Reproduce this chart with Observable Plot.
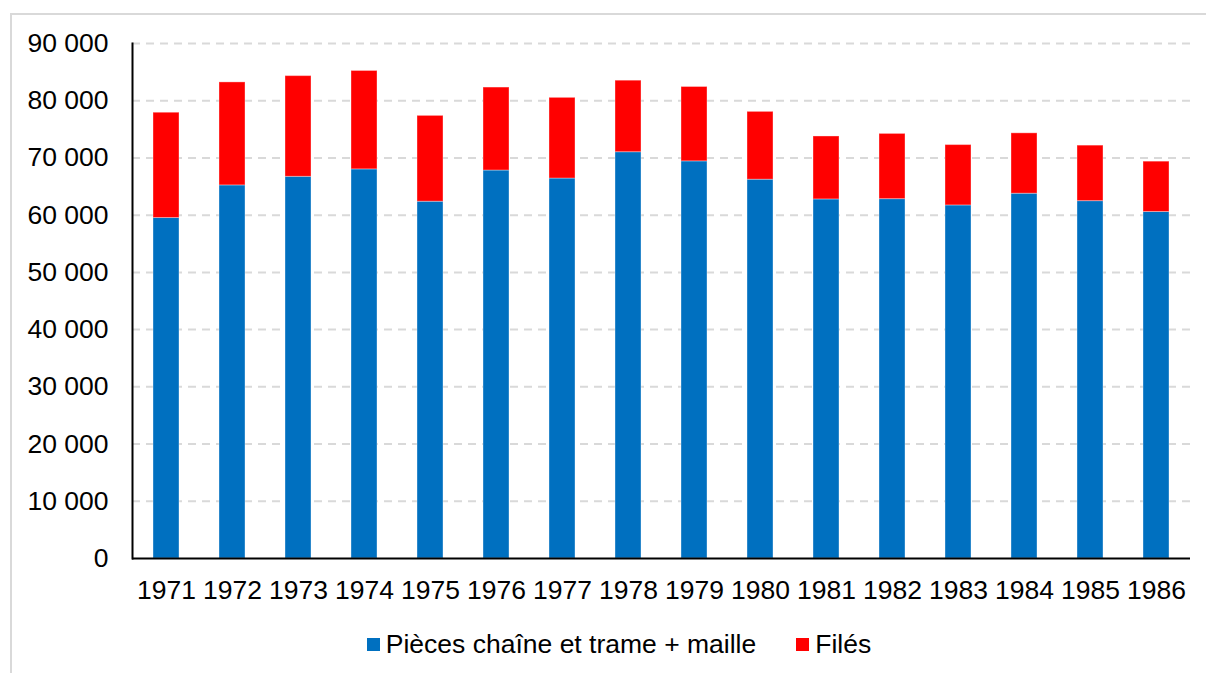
<!DOCTYPE html>
<html>
<head>
<meta charset="utf-8">
<script src="https://cdn.jsdelivr.net/npm/d3@7"></script>
<script src="https://cdn.jsdelivr.net/npm/@observablehq/plot@0.6"></script>
<style>
  html, body { margin: 0; padding: 0; background: #fff; }
  body { width: 1206px; height: 673px; position: relative; overflow: hidden;
         font-family: "Liberation Sans", Arial, sans-serif; }
  #frame { position: absolute; left: 10px; top: 13px; width: 1210px; height: 680px;
           border: 2px solid #d9d9d9; box-sizing: border-box; }
  #chart { position: absolute; left: 0; top: 0; }
  #legend { position: absolute; left: 32px; width: 1174px; top: 629px; display: flex;
            justify-content: center; align-items: center; gap: 40px;
            font-size: 26.5px; color: #000; }
  #legend .item { display: flex; align-items: center; }
  #legend .sw { width: 13px; height: 13px; margin-right: 6px; }
</style>
</head>
<body>
<div id="frame"></div>
<div id="chart"></div>
<div id="legend"></div>
<script>
// Production by year (tonnes): woven + knitted pieces, and yarns
const years = ["1971", "1972", "1973", "1974", "1975", "1976", "1977", "1978",
               "1979", "1980", "1981", "1982", "1983", "1984", "1985", "1986"];
const pieces = [59500, 65200, 66700, 68000, 62350, 67800, 66400, 71000,
                69400, 66200, 62750, 62800, 61700, 63750, 62450, 60550];
const files  = [18400, 18000, 17600, 17200, 15000, 14500, 14100, 12500,
                13000, 11850, 11000, 11400, 10550, 10550, 9700, 8800];
const seriesNames = ["Pièces chaîne et trame + maille", "Filés"];
const seriesColors = ["#0070C0", "#FF0000"];
const yTicks = [0, 10000, 20000, 30000, 40000, 50000, 60000, 70000, 80000, 90000];

// Long table: the bottom segment first so it stacks under the yarns
const rows = [];
years.forEach((year, i) => {
  rows.push({year, series: seriesNames[0], value: pieces[i]});
  rows.push({year, series: seriesNames[1], value: files[i]});
});

const fmt = d3.formatLocale({decimal: ",", thousands: "\u00a0", grouping: [3], currency: ["", " €"]}).format(",d");

const chart = Plot.plot({
  width: 1206,
  height: 620,
  marginLeft: 132,
  marginRight: 16,
  marginTop: 43,
  marginBottom: 62,
  style: {fontFamily: "'Liberation Sans', Arial, sans-serif", fontSize: "26.5px", color: "#000", background: "transparent", overflow: "visible"},
  x: {domain: years, paddingInner: 0.6, paddingOuter: 0.3, label: null, tickSize: 0, tickPadding: 22},
  y: {domain: [0, 90000], ticks: yTicks, tickFormat: fmt, label: null, tickSize: 0, tickPadding: 24},
  color: {domain: seriesNames, range: seriesColors},
  marks: [
    Plot.ruleY(yTicks.filter(d => d > 0), {stroke: "#d9d9d9", strokeWidth: 2, strokeDasharray: "8,6"}),
    Plot.barY(rows, {x: "year", y: "value", fill: "series", stroke: "#fff", strokeOpacity: 0.35, strokeWidth: 1}),
    Plot.frame({anchor: "left", stroke: "#000", strokeWidth: 2}),
    Plot.ruleY([0], {stroke: "#000", strokeWidth: 2})
  ]
});
document.getElementById("chart").appendChild(chart);

const legend = document.getElementById("legend");
seriesNames.forEach((name, i) => {
  const item = document.createElement("div");
  item.className = "item";
  const sw = document.createElement("span");
  sw.className = "sw";
  sw.style.background = seriesColors[i];
  const label = document.createElement("span");
  label.textContent = name;
  item.appendChild(sw);
  item.appendChild(label);
  legend.appendChild(item);
});
</script>
</body>
</html>
